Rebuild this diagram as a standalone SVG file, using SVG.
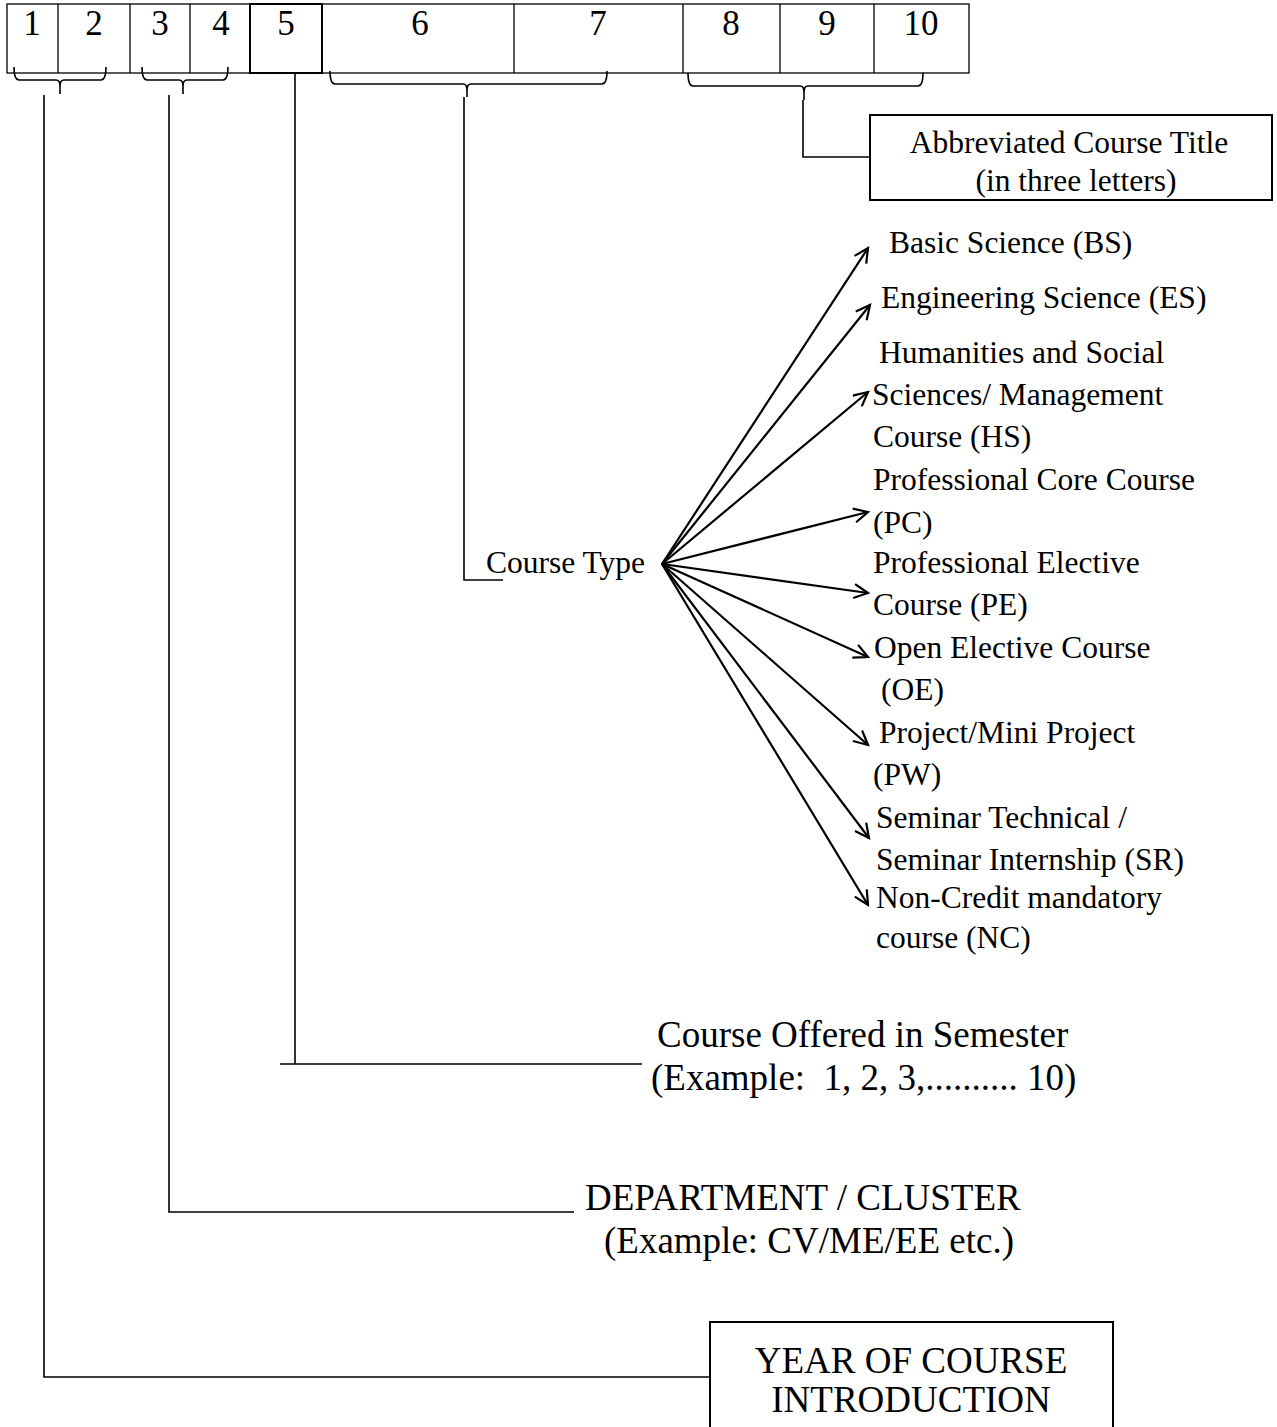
<svg xmlns="http://www.w3.org/2000/svg" width="1277" height="1427" viewBox="0 0 1277 1427">
<style>
text{font-family:"Liberation Serif","Times New Roman",serif;fill:#000}
.num{font-size:35px;text-anchor:middle}
.lbl{font-size:31.5px}
.big{font-size:37px}
.ctr{text-anchor:middle}
.thin{fill:none;stroke:#000;stroke-width:1.3}
.ln{fill:none;stroke:#000;stroke-width:1.6}
.box{fill:#fff;stroke:#000;stroke-width:2}
.arr{fill:none;stroke:#000;stroke-width:2.2;marker-end:url(#ah)}
</style>
<defs>
<marker id="ah" markerUnits="userSpaceOnUse" markerWidth="20" markerHeight="20" refX="15" refY="8" orient="auto">
<path d="M1,1 L15,8 L1,15" fill="none" stroke="#000" stroke-width="2.2"/>
</marker>
</defs>
<rect width="1277" height="1427" fill="#fff"/>

<g id="code-row">
<rect x="7" y="4" width="962" height="69" class="thin"/>
<path class="thin" d="M58,4V73 M130,4V73 M190,4V73 M514,4V73 M683,4V73 M780,4V73 M874,4V73"/>
<rect x="250" y="4" width="72" height="69" fill="none" stroke="#000" stroke-width="2"/>
<text class="num" x="32" y="35">1</text>
<text class="num" x="94" y="35">2</text>
<text class="num" x="160" y="35">3</text>
<text class="num" x="221" y="35">4</text>
<text class="num" x="286" y="35">5</text>
<text class="num" x="420" y="35">6</text>
<text class="num" x="598" y="35">7</text>
<text class="num" x="731" y="35">8</text>
<text class="num" x="827" y="35">9</text>
<text class="num" x="921" y="35">10</text>
</g>

<g id="brackets">
<path class="ln" d="M14,67 Q14,80 19,80 H56 Q60,80 60,86 V94 M60,86 Q60,80 64,80 H101 Q106,80 106,67"/>
<path class="ln" d="M142,67 Q142,80 147,80 H179 Q183,80 183,86 V94 M183,86 Q183,80 187,80 H223 Q228,80 228,67"/>
<path class="ln" d="M330,71 Q330,84 335,84 H463 Q467,84 467,90 V97 M467,90 Q467,84 471,84 H602 Q607,84 607,71"/>
<path class="ln" d="M688,73 Q688,86 693,86 H800 Q804,86 804,92 V100 M804,92 Q804,86 808,86 H918 Q923,86 923,73"/>
</g>

<g id="connectors">
<path class="ln" d="M44,95 V1377 H710" stroke-width="2"/>
<path class="ln" d="M169,95 V1212 H574"/>
<path class="ln" d="M295,73 V1064 M280,1064 H642"/>
<path class="ln" d="M464,97 V580 H503"/>
<path class="ln" d="M803,100 V157 H870"/>
<line class="arr" x1="662" y1="564" x2="868" y2="248"/>
<line class="arr" x1="662" y1="564" x2="870" y2="305"/>
<line class="arr" x1="662" y1="564" x2="868" y2="392"/>
<line class="arr" x1="662" y1="564" x2="868" y2="512"/>
<line class="arr" x1="662" y1="564" x2="868" y2="593"/>
<line class="arr" x1="662" y1="564" x2="868" y2="657"/>
<line class="arr" x1="662" y1="564" x2="868" y2="745"/>
<line class="arr" x1="662" y1="564" x2="869" y2="838"/>
<line class="arr" x1="662" y1="564" x2="868" y2="905"/>
</g>

<g id="abbrev">
<rect class="box" x="870" y="115" width="402" height="85"/>
<text class="lbl ctr" x="1069" y="153">Abbreviated Course Title</text>
<text class="lbl ctr" x="1076" y="191">(in three letters)</text>
</g>

<g id="course-type">
<text class="lbl" x="486" y="573">Course Type</text>
</g>

<g id="bs"><text class="lbl" x="889" y="253">Basic Science (BS)</text></g>
<g id="es"><text class="lbl" x="881" y="308">Engineering Science (ES)</text></g>
<g id="hs">
<text class="lbl" x="879" y="363">Humanities and Social</text>
<text class="lbl" x="872" y="405">Sciences/ Management</text>
<text class="lbl" x="873" y="447">Course (HS)</text>
</g>
<g id="pc">
<text class="lbl" x="873" y="490">Professional Core Course</text>
<text class="lbl" x="873" y="533">(PC)</text>
</g>
<g id="pe">
<text class="lbl" x="873" y="573">Professional Elective</text>
<text class="lbl" x="873" y="615">Course (PE)</text>
</g>
<g id="oe">
<text class="lbl" x="874" y="658">Open Elective Course</text>
<text class="lbl" x="881" y="700">(OE)</text>
</g>
<g id="pw">
<text class="lbl" x="879" y="743">Project/Mini Project</text>
<text class="lbl" x="873" y="785">(PW)</text>
</g>
<g id="sr">
<text class="lbl" x="876" y="828">Seminar Technical /</text>
<text class="lbl" x="876" y="870">Seminar Internship (SR)</text>
</g>
<g id="nc">
<text class="lbl" x="876" y="908">Non-Credit mandatory</text>
<text class="lbl" x="876" y="948">course (NC)</text>
</g>

<g id="semester">
<text class="big" x="657" y="1047">Course Offered in Semester</text>
<text class="big" x="651" y="1090" xml:space="preserve">(Example:  1, 2, 3,.......... 10)</text>
</g>

<g id="department">
<text class="big" x="585" y="1210">DEPARTMENT / CLUSTER</text>
<text class="big" x="604" y="1253">(Example: CV/ME/EE etc.)</text>
</g>

<g id="year">
<rect class="box" x="710" y="1322" width="403" height="120"/>
<text class="big ctr" x="911" y="1373">YEAR OF COURSE</text>
<text class="big ctr" x="911" y="1412">INTRODUCTION</text>
</g>
</svg>
